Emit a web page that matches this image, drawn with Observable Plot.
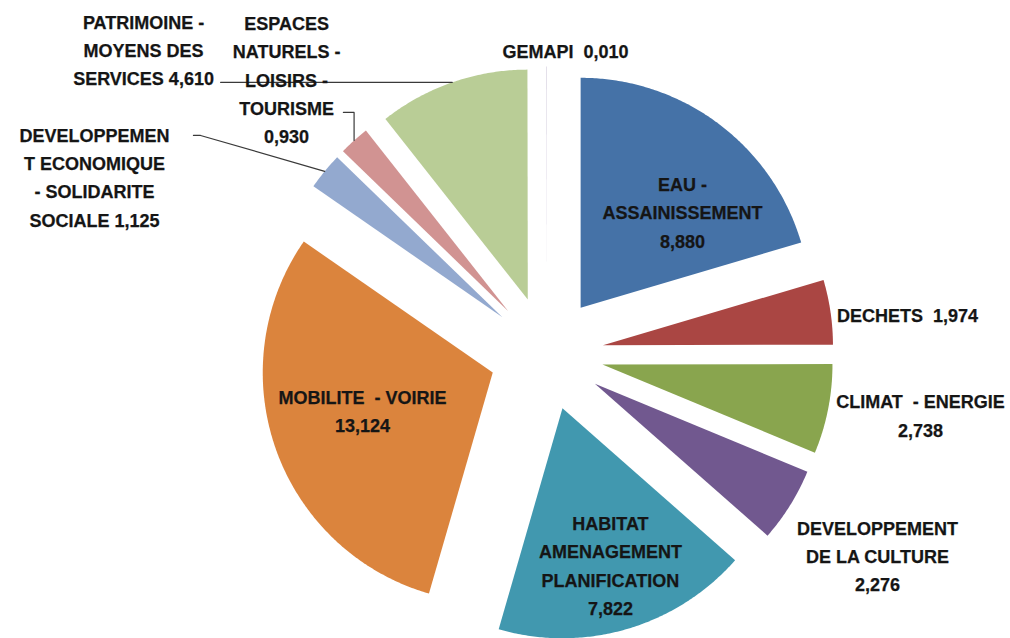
<!DOCTYPE html>
<html><head><meta charset="utf-8">
<script src="https://cdn.jsdelivr.net/npm/d3@7"></script>
<script src="https://cdn.jsdelivr.net/npm/@observablehq/plot@0.6"></script>
<style>html,body{margin:0;padding:0;background:#fff;overflow:hidden} #chart svg{display:block}</style>
</head><body><div id="chart"></div>
<script>
// ---- data ----
const categories = [
  "EAU - ASSAINISSEMENT", "DECHETS", "CLIMAT - ENERGIE", "DEVELOPPEMENT DE LA CULTURE",
  "HABITAT AMENAGEMENT PLANIFICATION", "MOBILITE - VOIRIE",
  "DEVELOPPEMENT ECONOMIQUE - SOLIDARITE SOCIALE", "ESPACES NATURELS - LOISIRS - TOURISME",
  "PATRIMOINE - MOYENS DES SERVICES", "GEMAPI"
];
const values = [8.880, 1.974, 2.738, 2.276, 7.822, 13.124, 1.125, 0.930, 4.610, 0.010];
const labelTemplates = [
  "EAU -\nASSAINISSEMENT\n{v}",
  "DECHETS \u00a0{v}",
  "CLIMAT \u00a0- ENERGIE\n{v}",
  "DEVELOPPEMENT\nDE LA CULTURE\n{v}",
  "HABITAT\nAMENAGEMENT\nPLANIFICATION\n{v}",
  "MOBILITE \u00a0- VOIRIE\n{v}",
  "DEVELOPPEMEN\nT ECONOMIQUE\n- SOLIDARITE\nSOCIALE {v}",
  "ESPACES\nNATURELS -\nLOISIRS -\nTOURISME\n{v}",
  "PATRIMOINE -\nMOYENS DES\nSERVICES {v}",
  "GEMAPI \u00a0{v}"
];
const colors = ["#4572A7", "#AA4643", "#89A54E", "#71588F", "#4198AF", "#DB843D", "#93A9CF", "#D19392", "#B9CD96", "#A99BBD"];

// ---- layout (pie units: radius = 1, origin = pie centre) ----
const W = 1010, H = 638, R = 230, CX = 546, CY = 353, EXPLODE = 0.248;
const labelPos = [
  [0.591, -0.622], [1.570, -0.174], [1.626, 0.261], [1.439, 0.870], [0.278, 0.913],
  [-0.800, 0.243], [-1.965, -0.774], [-1.130, -1.200], [-1.752, -1.330], [0.083, -1.326]
];
// leader line elbows after the point on the slice's outer arc
const leaders = {
  6: [[-1.504, -0.948], [-1.535, -0.948]],
  7: [["arcx", -1.048], [-0.883, -1.048]],
  8: [[-1.417, "arcy"]]
};

const fmt = v => d3.format(".3f")(v).replace(".", ",");
const arcs = d3.pie().sort(null)(values);

const slicePts = [];
const arcMid = [];
arcs.forEach((p, i) => {
  const mid = (p.startAngle + p.endAngle) / 2;
  const ox = EXPLODE * Math.sin(mid), oy = -EXPLODE * Math.cos(mid);
  arcMid.push([ox + Math.sin(mid), oy - Math.cos(mid)]);
  const name = categories[i];
  slicePts.push({name, x: ox, y: oy});
  const n = Math.max(2, Math.ceil((p.endAngle - p.startAngle) / (Math.PI / 360)));
  for (let k = 0; k <= n; k++) {
    const a = p.startAngle + (p.endAngle - p.startAngle) * k / n;
    slicePts.push({name, x: ox + Math.sin(a), y: oy - Math.cos(a)});
  }
  slicePts.push({name, x: ox, y: oy});
});

const leaderPts = [];
Object.entries(leaders).forEach(([i, elbows]) => {
  const [ax, ay] = arcMid[i];
  leaderPts.push({id: i, x: ax, y: ay});
  elbows.forEach(([ex, ey]) => leaderPts.push({id: i, x: ex === "arcx" ? ax : ex, y: ey === "arcy" ? ay : ey}));
});

const labels = categories.map((c, i) => ({
  name: c,
  text: labelTemplates[i].replace("{v}", fmt(values[i])),
  x: labelPos[i][0], y: labelPos[i][1]
}));

const chart = Plot.plot({
  width: W, height: H,
  margin: 0,
  style: {background: "#fff"},
  x: {domain: [-CX / R, (W - CX) / R], range: [0, W], axis: null},
  y: {domain: [-CY / R, (H - CY) / R], range: [0, H], axis: null},
  color: {domain: categories, range: colors},
  marks: [
    Plot.line(slicePts, {x: "x", y: "y", z: "name", fill: "name", stroke: "none", curve: "linear"}),
    Plot.line(leaderPts, {x: "x", y: "y", z: "id", stroke: "#3a3a3a", strokeWidth: 1.2, curve: "linear"}),
    Plot.text(labels, {x: "x", y: "y", text: "text", fontSize: 18, fontWeight: "bold",
      fontFamily: "Liberation Sans, Arial, sans-serif", lineHeight: 1.56, textAnchor: "middle",
      fill: "#151515", stroke: "#151515", strokeWidth: 0.25})
  ]
});
document.getElementById("chart").appendChild(chart);
</script>
</body></html>
